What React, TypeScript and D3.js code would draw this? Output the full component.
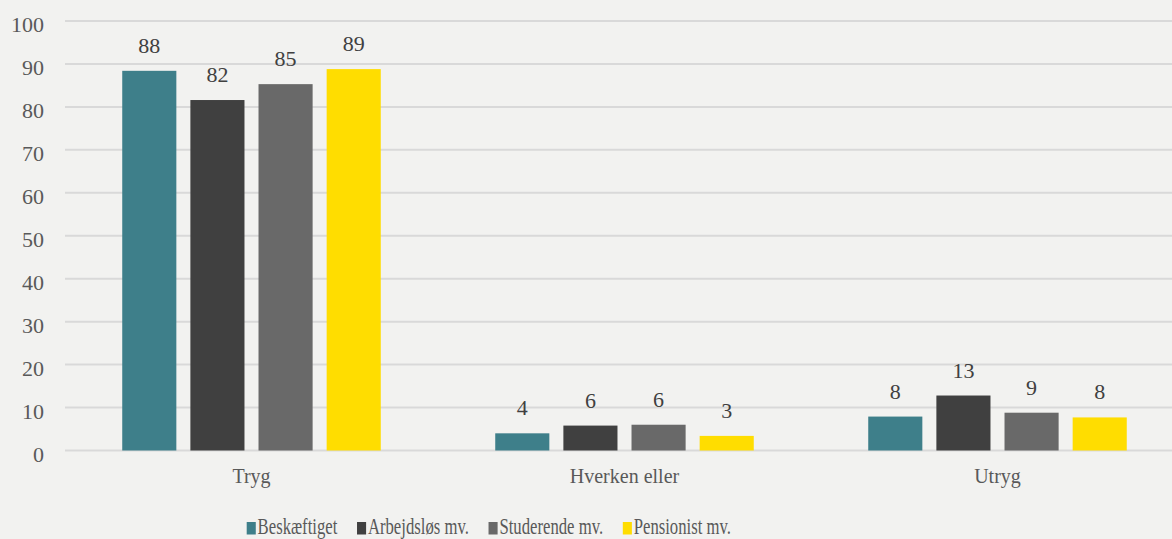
import React, { useEffect, useRef } from 'react';
import * as d3 from 'd3';

const categories = ['Tryg', 'Hverken eller', 'Utryg'];
const seriesNames = ['Beskæftiget', 'Arbejdsløs mv.', 'Studerende mv.', 'Pensionist mv.'];
const seriesColors = ['#3e7f8a', '#404040', '#696969', '#ffdd00'];
const beskaeftiget = [88.4, 4.0, 7.9];
const arbejdsloes = [81.6, 5.8, 12.8];
const studerende = [85.3, 6.0, 8.8];
const pensionist = [88.8, 3.4, 7.7];
const yTicks = [0, 10, 20, 30, 40, 50, 60, 70, 80, 90, 100];

const App: React.FC = () => {
  const svgRef = useRef<SVGSVGElement>(null);

  useEffect(() => {
    if (!svgRef.current) return;
    const svg = d3.select(svgRef.current);
    svg.selectAll('*').remove();

    const width = 1172;
    const height = 539;
    const font = "'Liberation Serif', 'Times New Roman', serif";
    const values = [beskaeftiget, arbejdsloes, studerende, pensionist];

    svg.append('rect').attr('width', width).attr('height', height).attr('fill', '#f2f2f0');

    const x0 = d3.scaleBand<string>().domain(categories).range([65, 1184]).paddingInner(0).paddingOuter(0);
    const x1 = d3.scaleBand<number>()
      .domain(d3.range(seriesNames.length))
      .range([0, x0.bandwidth()])
      .paddingInner(0.206)
      .paddingOuter(0.84);
    const y = d3.scaleLinear().domain([0, 100]).range([450.5, 21]);

    // gridlines
    svg.append('g')
      .selectAll('line')
      .data(yTicks)
      .join('line')
      .attr('x1', 65)
      .attr('x2', width)
      .attr('y1', d => y(d))
      .attr('y2', d => y(d))
      .attr('stroke', '#d9d9d9')
      .attr('stroke-width', 2);

    // y tick labels
    svg.append('g')
      .selectAll('text')
      .data(yTicks)
      .join('text')
      .attr('x', 44)
      .attr('y', d => y(d) + 11)
      .attr('text-anchor', 'end')
      .style('font-family', font)
      .style('font-size', '22px')
      .style('fill', '#595959')
      .text(d => d);

    // bars
    const groups = svg.append('g')
      .selectAll('g')
      .data(categories)
      .join('g')
      .attr('transform', d => `translate(${x0(d)},0)`);

    groups.selectAll('rect')
      .data((_, ci) => values.map((s, si) => ({ si, v: s[ci] })))
      .join('rect')
      .attr('x', d => x1(d.si)!)
      .attr('width', x1.bandwidth())
      .attr('y', d => y(d.v))
      .attr('height', d => y(0) - y(d.v))
      .attr('fill', d => seriesColors[d.si]);

    groups.selectAll('text')
      .data((_, ci) => values.map((s, si) => ({ si, v: s[ci] })))
      .join('text')
      .attr('x', d => x1(d.si)! + x1.bandwidth() / 2)
      .attr('y', d => y(d.v) - 18)
      .attr('text-anchor', 'middle')
      .style('font-family', font)
      .style('font-size', '22px')
      .style('fill', '#404040')
      .text(d => Math.round(d.v));

    // category labels
    svg.append('g')
      .selectAll('text')
      .data(categories)
      .join('text')
      .attr('x', d => x0(d)! + x0.bandwidth() / 2)
      .attr('y', 483)
      .attr('text-anchor', 'middle')
      .style('font-family', font)
      .style('font-size', '20px')
      .style('fill', '#595959')
      .text(d => d);

    // legend (horizontally compressed like the original)
    const legend = svg.append('g');
    let cursor = 0;
    seriesNames.forEach((name, i) => {
      const item = legend.append('g').attr('transform', `translate(${cursor},0)`);
      item.append('rect')
        .attr('x', 0)
        .attr('y', 522)
        .attr('width', 12.5)
        .attr('height', 12.5)
        .attr('fill', seriesColors[i]);
      const t = item.append('text')
        .attr('x', 15)
        .attr('y', 534.5)
        .style('font-family', font)
        .style('font-size', '23px')
        .style('fill', '#595959')
        .text(name);
      const w = (t.node() as SVGTextElement).getComputedTextLength();
      cursor += 15 + w + 27;
    });
    const total = cursor - 27;
    const targetW = 731 - 246.7;
    const sx = targetW / total;
    legend.attr('transform', `translate(246.7,0) scale(${sx},1)`);
  }, []);

  return (
    <svg
      ref={svgRef}
      width={1172}
      height={539}
      viewBox="0 0 1172 539"
      style={{ position: 'absolute', left: 0, top: 0, display: 'block' }}
    />
  );
};

export default App;
